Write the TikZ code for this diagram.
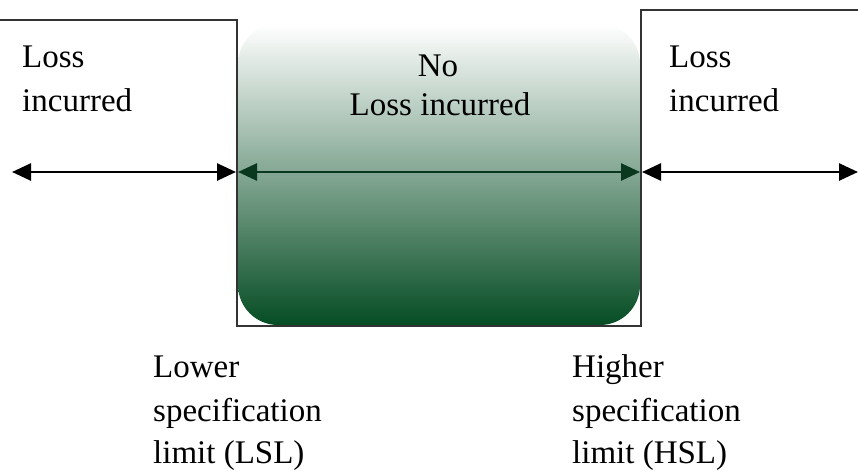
\documentclass[tikz,border=0pt]{standalone}
\usepackage{fontspec}
\setmainfont{Liberation Serif}
\usetikzlibrary{arrows.meta}
\definecolor{zonegreen}{rgb}{0.02,0.30,0.14}
\definecolor{zonemid}{rgb}{0.60,0.76,0.67}
\definecolor{arrowgreen}{rgb}{0.04,0.22,0.12}
\definecolor{edgegrey}{gray}{0.2}
\begin{document}
\begin{tikzpicture}[x=1pt,y=-1pt,
  lbl/.style={anchor=base west, inner sep=0pt, font=\fontsize{33}{40}\selectfont},
  clbl/.style={anchor=base, inner sep=0pt, font=\fontsize{33}{40}\selectfont},
  spanarrow/.style={line width=2.6pt, {Triangle[length=19pt,width=17pt]}-{Triangle[length=19pt,width=17pt]}},
  outline/.style={draw=edgegrey, line width=2pt}]
\useasboundingbox (0,0) rectangle (858,474);

% acceptance zone between the limits
\shade[top color=white, middle color=zonemid, bottom color=zonegreen, rounded corners=40pt]
  (238,24) rectangle (640,325);

% step outline: loss regions outside the limits
\draw[outline] (0,20) -- (237,20) -- (237,326) -- (641,326) -- (641,10) -- (858,10);

% arrow end points
\coordinate (farL) at (12,172);
\coordinate (lslA) at (236,172);
\coordinate (lslB) at (238,172);
\coordinate (hslA) at (640,172);
\coordinate (hslB) at (642,172);
\coordinate (farR) at (858,172);

\draw[spanarrow] (farL) -- (lslA);
\draw[spanarrow, arrowgreen] (lslB) -- (hslA);
\draw[spanarrow] (hslB) -- (farR);

% labels
\node[lbl] (lossL1) at (22,67) {Loss};
\node[lbl] (lossL2) at (22,111) {incurred};
\node[clbl] (noloss1) at (438,76) {No};
\node[clbl] (noloss2) at (440,115) {Loss incurred};
\node[lbl] (lossR1) at (669,67) {Loss};
\node[lbl] (lossR2) at (669,111) {incurred};

\node[lbl] (lsl1) at (153,377) {Lower};
\node[lbl] (lsl2) at (153,421) {specification};
\node[lbl] (lsl3) at (153,463) {limit (LSL)};
\node[lbl] (hsl1) at (572,377) {Higher};
\node[lbl] (hsl2) at (572,421) {specification};
\node[lbl] (hsl3) at (572,463) {limit (HSL)};
\end{tikzpicture}
\end{document}
